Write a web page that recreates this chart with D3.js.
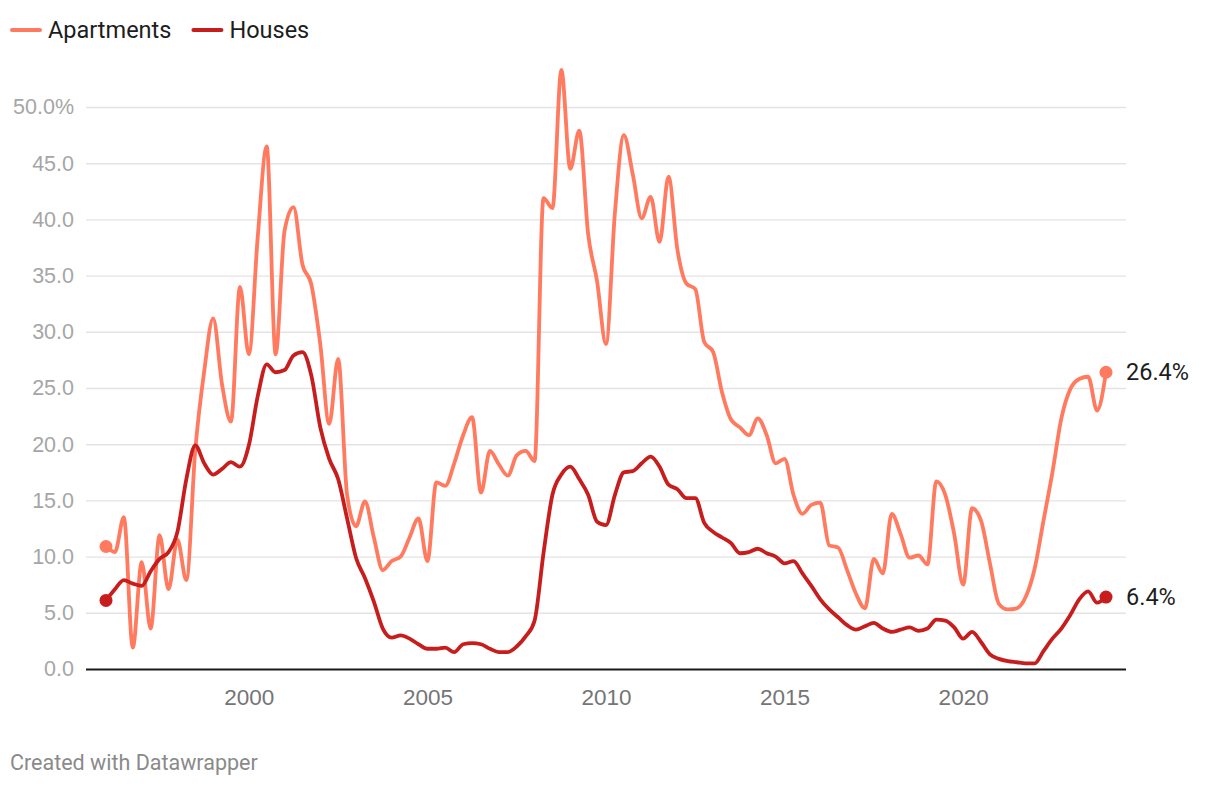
<!DOCTYPE html>
<html>
<head>
<meta charset="utf-8">
<script src="https://cdn.jsdelivr.net/npm/d3@7"></script>
<style>
  html, body { margin: 0; padding: 0; background: #fff; }
  svg { display: block; font-family: Roboto, "Noto Sans", sans-serif; }
</style>
</head>
<body>
<svg id="chart" width="1220" height="786"></svg>
<script>
// Quarterly data, 1996 Q1 .. 2024 Q1
const startYear = 1996;
const apartments = [
  10.9, 10.4, 13.5, 1.9, 9.5, 3.6, 11.9, 7.1, 11.5, 7.9,
  19.5, 26.5, 31.2, 25.3, 22.0, 34.0, 28.0, 38.5, 46.5, 28.0,
  39.0, 41.1, 36.0, 34.2, 28.9, 21.8, 27.6, 15.5, 12.7, 14.9,
  11.7, 8.8, 9.6, 10.0, 11.7, 13.4, 9.6, 16.6, 16.3, 18.3,
  20.8, 22.4, 15.7, 19.4, 18.2, 17.2, 19.0, 19.4, 18.5, 41.9,
  41.0, 53.3, 44.5, 47.9, 38.7, 34.5, 28.9, 40.6, 47.5, 44.0,
  40.1, 42.0, 38.0, 43.8, 37.3, 34.3, 33.8, 29.1, 28.2, 24.6,
  22.2, 21.5, 20.8, 22.3, 20.8, 18.3, 18.7, 15.5, 13.8, 14.6,
  14.8, 11.0, 10.8, 8.8, 6.7, 5.4, 9.8, 8.5, 13.8, 12.0,
  9.9, 10.1, 9.3, 16.7, 15.5, 12.0, 7.5, 14.3, 13.2, 9.4,
  5.8, 5.3, 5.4, 6.4, 8.9, 13.2, 17.5, 22.3, 24.9, 25.8,
  26.0, 23.0, 26.4
];
const houses = [
  6.1, 7.1, 7.9, 7.6, 7.4, 8.7, 9.8, 10.4, 12.2, 16.9,
  19.9, 18.3, 17.3, 17.8, 18.4, 18.0, 19.9, 24.3, 27.1, 26.4,
  26.6, 27.9, 28.2, 26.1, 21.5, 18.7, 16.9, 13.4, 9.9, 8.1,
  6.0, 3.6, 2.8, 3.0, 2.7, 2.2, 1.8, 1.8, 1.9, 1.5,
  2.2, 2.3, 2.2, 1.8, 1.5, 1.5, 2.0, 2.9, 4.3, 10.3,
  15.5, 17.3, 18.0, 16.9, 15.5, 13.1, 12.8, 15.5, 17.5, 17.6,
  18.3, 18.9, 18.0, 16.4, 16.0, 15.2, 15.2, 13.0, 12.2, 11.7,
  11.2, 10.3, 10.4, 10.7, 10.3, 10.0, 9.4, 9.6, 8.5, 7.4,
  6.2, 5.3, 4.6, 3.9, 3.5, 3.8, 4.1, 3.6, 3.3, 3.5,
  3.7, 3.4, 3.6, 4.4, 4.3, 3.7, 2.7, 3.3, 2.4, 1.3,
  0.9, 0.7, 0.6, 0.5, 0.5, 1.6, 2.7, 3.6, 4.8, 6.2,
  6.9, 5.9, 6.4
];
const seriesNames = ["Apartments", "Houses"];
const seriesColors = ["#ff7a5f", "#c71e1d"];
const yTicks = [0, 5, 10, 15, 20, 25, 30, 35, 40, 45, 50];
const xTicks = [2000, 2005, 2010, 2015, 2020];

const svg = d3.select("#chart");
const x = d3.scaleLinear().domain([1996, 2024]).range([106, 1106]);
const y = d3.scaleLinear().domain([0, 50]).range([669, 107]);
const gridLeft = 86, gridRight = 1126;

// gridlines + y labels
const yAxis = d3.axisLeft(y).tickValues(yTicks).tickSize(0).tickPadding(12)
  .tickFormat(d => d === 50 ? d.toFixed(1) + "%" : d.toFixed(1));
const yg = svg.append("g").attr("transform", `translate(${gridLeft},0)`).call(yAxis);
yg.select(".domain").remove();
yg.selectAll("text").attr("fill", "#a6a6a6").style("font-size", "21.5px");
yg.selectAll(".tick").append("line")
  .attr("x1", 0).attr("x2", gridRight - gridLeft)
  .attr("stroke", d => d === 0 ? "#1a1a1a" : "#e3e3e3")
  .attr("stroke-width", d => d === 0 ? 2.2 : 1.4);
yg.selectAll(".tick text").attr("x", -12);

// x axis labels
const xAxis = d3.axisBottom(x).tickValues(xTicks).tickSize(0).tickPadding(20).tickFormat(d3.format("d"));
const xg = svg.append("g").attr("transform", `translate(0,${y(0)})`).call(xAxis);
xg.select(".domain").remove();
xg.selectAll("text").attr("fill", "#757575").style("font-size", "22.5px");

// lines
const dataSets = [apartments, houses];
const line = d3.line()
  .x((d, i) => x(startYear + i / 4))
  .y(d => y(d))
  .curve(d3.curveMonotoneX);

dataSets.forEach((vals, k) => {
  svg.append("path").datum(vals)
    .attr("d", line)
    .attr("fill", "none")
    .attr("stroke", seriesColors[k])
    .attr("stroke-width", 3.8)
    .attr("stroke-linejoin", "round")
    .attr("stroke-linecap", "round");
  const n = vals.length;
  [0, n - 1].forEach(i => {
    svg.append("circle")
      .attr("cx", x(startYear + i / 4)).attr("cy", y(vals[i]))
      .attr("r", 6.5).attr("fill", seriesColors[k]);
  });
  svg.append("text")
    .attr("x", x(startYear + (n - 1) / 4) + 20).attr("y", y(vals[n - 1]))
    .attr("dy", "0.35em")
    .attr("fill", "#1d1d1d").style("font-size", "23.5px")
    .text(vals[n - 1].toFixed(1) + "%");
});

// legend
const legend = svg.append("g");
let lx = 12;
seriesNames.forEach((name, k) => {
  const g = legend.append("g").attr("transform", `translate(${lx},30)`);
  g.append("line").attr("x1", 0).attr("x2", 28).attr("y1", 0).attr("y2", 0)
    .attr("stroke", seriesColors[k]).attr("stroke-width", 4).attr("stroke-linecap", "round");
  const t = g.append("text").attr("x", 36).attr("dy", "0.35em")
    .attr("fill", "#1d1d1d").style("font-size", "23.5px").text(name);
  lx += 36 + t.node().getComputedTextLength() + 22;
});

// footer
svg.append("text").attr("x", 10).attr("y", 770)
  .attr("fill", "#8a8a8a").style("font-size", "21.5px")
  .text("Created with Datawrapper");
</script>
</body>
</html>
